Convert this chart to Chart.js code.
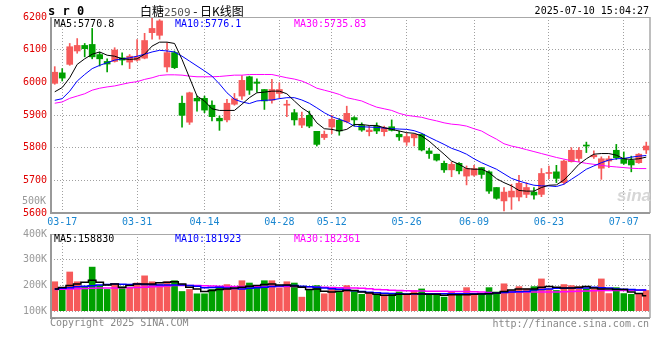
<!DOCTYPE html>
<html>
<head>
<meta charset="utf-8">
<script src="https://cdn.jsdelivr.net/npm/chart.js@4.4.1/dist/chart.umd.min.js"></script>
<style>
body { margin: 0; background: #fff; }
#wrap { position: relative; width: 660px; height: 360px; overflow: hidden; font-family: 'DejaVu Sans Mono', monospace; font-size: 10px; }
canvas { position: absolute; left: 0; }
.t { position: absolute; white-space: pre; line-height: 12px; }
</style>
</head>
<body>
<div id="wrap">
  <canvas id="priceChart" width="660" height="232" style="top:0"></canvas>
  <canvas id="volChart" width="660" height="110" style="top:222px"></canvas>

  <div class="t" style="left:617px;top:187px;color:#d6d6d6;font:italic bold 17px 'Liberation Sans',sans-serif;line-height:18px">sina</div>

  <div class="t" style="left:48px;top:5px;font-weight:bold;font-size:12px">s r 0</div>
  <div class="t" style="left:140px;top:4px;font-family:'Noto Sans CJK SC',sans-serif;font-size:12px;line-height:14px">白糖<span style="font-family:'DejaVu Sans Mono',monospace;font-size:11px;color:#555">2509</span> - 日K线图</div>
  <div class="t" style="right:11px;top:5px">2025-07-10 15:04:27</div>

  <div class="t" style="left:54px;top:18px">MA5:5770.8</div>
  <div class="t" style="left:175px;top:18px;color:#0000ff">MA10:5776.1</div>
  <div class="t" style="left:294px;top:18px;color:#ff00ff">MA30:5735.83</div>

  <div class="t" style="left:22px;top:195px;color:#999">500K</div>

  <div class="t" style="left:54px;top:233px">MA5:158830</div>
  <div class="t" style="left:175px;top:233px;color:#0000ff">MA10:181923</div>
  <div class="t" style="left:294px;top:233px;color:#ff00ff">MA30:182361</div>

  <div class="t" style="left:50px;top:317px;color:#888">Copyright 2025 SINA.COM</div>
  <div class="t" style="right:11px;top:318px;color:#888">http://finance.sina.com.cn</div>
</div>

<script>
// Trading days shown (80 sessions)
const dates = [
  '03-14','03-17','03-18','03-19','03-20','03-21','03-24','03-25','03-26','03-27','03-28','03-31',
  '04-01','04-02','04-03','04-07','04-08','04-09','04-10','04-11','04-14','04-15','04-16','04-17','04-18',
  '04-21','04-22','04-23','04-24','04-25','04-28','04-29','04-30',
  '05-06','05-07','05-08','05-09','05-12','05-13','05-14','05-15','05-16','05-19','05-20','05-21','05-22','05-23',
  '05-26','05-27','05-28','05-29','05-30',
  '06-03','06-04','06-05','06-06','06-09','06-10','06-11','06-12','06-13','06-16','06-17','06-18','06-19','06-20',
  '06-23','06-24','06-25','06-26','06-27','06-30',
  '07-01','07-02','07-03','07-04','07-07','07-08','07-09','07-10'
];
const dateTicks = ['03-17','03-31','04-14','04-28','05-12','05-26','06-09','06-23','07-07'];

const opens = [5997,6029,6055,6096,6113,6116,6085,6064,6064,6075,6062,6068,6074,6152,6144,6047,6091,5936,5878,5951,
  5951,5930,5890,5885,5933,5958,6017,6001,5978,5945,5966,5930,5907,5869,5899,5850,5831,5863,5884,5879,
  5892,5868,5849,5866,5849,5864,5841,5817,5830,5841,5790,5780,5752,5732,5752,5713,5716,5739,5726,5678,
  5637,5649,5649,5657,5664,5657,5721,5726,5693,5757,5767,5807,5772,5737,5759,5792,5766,5761,5754,5793];
const highs = [6048,6042,6119,6134,6119,6165,6092,6072,6106,6090,6085,6131,6150,6200,6192,6121,6096,5958,5970,5958,
  5958,5943,5897,5948,5966,6021,6019,6011,5978,6009,5999,5945,5917,5909,5912,5850,5851,5899,5889,5927,
  5895,5876,5866,5876,5866,5885,5851,5844,5841,5843,5798,5780,5759,5756,5754,5744,5746,5739,5729,5678,
  5678,5688,5715,5693,5678,5736,5744,5746,5762,5800,5800,5817,5790,5772,5774,5810,5787,5774,5782,5817];
const lows = [5994,6004,6052,6089,6078,6072,6050,6032,6062,6053,6042,6065,6072,6132,6132,6032,6042,5863,5871,5912,
  5907,5882,5853,5879,5930,5948,5963,5970,5917,5936,5953,5895,5869,5861,5861,5805,5825,5843,5838,5876,
  5866,5850,5836,5843,5836,5851,5822,5807,5805,5790,5767,5759,5724,5711,5720,5686,5713,5706,5660,5642,
  5606,5611,5637,5647,5642,5650,5705,5693,5688,5756,5757,5785,5767,5703,5739,5764,5749,5726,5752,5782];
const closes = [6031,6013,6109,6113,6103,6078,6072,6056,6099,6068,6080,6078,6128,6165,6188,6091,6045,5899,5968,5943,
  5915,5895,5882,5936,5950,6006,5976,5997,5943,5978,5978,5933,5885,5890,5866,5810,5841,5887,5851,5905,
  5885,5854,5854,5851,5861,5853,5833,5834,5841,5793,5782,5762,5732,5749,5729,5736,5736,5718,5667,5645,
  5664,5667,5691,5678,5655,5721,5723,5706,5759,5792,5792,5805,5777,5766,5766,5769,5752,5747,5780,5805];

const ma5 = [5971,5984,6014,6055,6072,6086,6093,6083,6080,6072,6070,6072,6086,6111,6123,6123,6119,6070,6014,5958,
  5943,5919,5914,5914,5914,5933,5953,5968,5970,5973,5973,5965,5943,5922,5907,5876,5858,5856,5851,5856,
  5871,5871,5868,5868,5861,5856,5851,5846,5844,5836,5820,5800,5780,5759,5749,5736,5734,5734,5724,5705,
  5693,5683,5669,5667,5667,5678,5685,5686,5701,5724,5749,5766,5780,5782,5782,5777,5766,5764,5766,5771];
const ma10 = [5945,5950,5973,6004,6024,6042,6052,6060,6068,6072,6075,6080,6086,6093,6098,6096,6093,6080,6065,6050,
  6035,6019,5995,5968,5948,5940,5935,5943,5945,5946,5950,5953,5953,5946,5936,5922,5907,5895,5887,5879,
  5866,5864,5863,5862,5860,5858,5857,5856,5852,5844,5832,5821,5810,5798,5790,5780,5766,5754,5744,5734,
  5720,5706,5698,5691,5685,5683,5683,5681,5688,5703,5718,5734,5744,5754,5762,5766,5767,5771,5774,5776];
const ma30 = [5936,5940,5951,5958,5965,5976,5982,5986,5989,5994,5999,6002,6009,6014,6021,6023,6023,6022,6019,6017,
  6017,6017,6018,6020,6022,6022,6024,6024,6024,6024,6019,6014,6010,6004,5994,5982,5976,5970,5963,5953,
  5948,5943,5933,5924,5919,5914,5905,5899,5896,5893,5887,5882,5876,5872,5870,5866,5858,5851,5838,5826,
  5812,5805,5800,5794,5788,5782,5776,5770,5765,5760,5756,5752,5749,5746,5743,5741,5739,5737,5736,5736];

// Volume in thousands of lots
const volumeK = [214,182,252,214,193,271,199,184,205,193,189,209,237,214,205,214,218,176,184,167,
  167,184,193,203,186,218,209,195,218,218,190,214,209,154,184,199,167,186,176,199,
  176,165,171,161,163,167,174,163,180,186,167,165,154,174,163,191,165,167,191,174,
  206,180,195,186,195,225,186,180,203,199,195,186,186,225,168,191,168,165,165,180];
const vma5 = [186,192,199,205,212,220,212,201,205,193,199,205,205,205,210,212,214,205,193,186,
  176,180,184,186,190,193,196,199,203,205,201,201,197,193,184,186,177,174,177,180,
  180,174,170,165,161,161,165,165,167,166,165,165,161,163,163,163,165,166,167,170,
  176,182,186,186,186,193,195,193,190,190,193,195,190,186,186,184,184,174,168,159];
const vma10 = [186,189,191,194,196,198,201,203,205,204,203,205,203,202,201,201,201,201,199,196,
  191,192,193,190,188,186,189,191,193,195,197,199,199,196,194,193,190,187,185,182,
  179,176,173,171,169,168,167,166,166,167,167,167,167,167,167,167,167,167,168,170,
  172,174,175,176,182,184,186,189,189,190,190,190,193,191,190,186,185,184,182,182];
const vma30 = [184,185,186,187,188,189,190,190,190,191,191,192,193,194,195,197,199,199,199,199,
  198,197,196,195,195,195,195,195,195,195,195,195,195,194,194,193,193,192,191,190,
  190,189,187,184,183,181,180,179,178,178,177,177,177,176,176,176,175,174,172,171,
  172,174,174,174,174,174,174,174,175,176,177,178,179,180,180,180,180,181,181,182];

const RED = '#f65a5a';
const GREEN = '#00a000';
const isUp = i => closes[i] >= opens[i];
const candleColor = ctx => isUp(ctx.dataIndex) ? RED : GREEN;

Chart.defaults.font.family = "'DejaVu Sans Mono', monospace";
Chart.defaults.font.size = 10;
Chart.defaults.animation = false;

// Gray frame around each panel
const framePlugin = {
  id: 'frame',
  afterDatasetsDraw(chart, args, opts) {
    const { ctx, chartArea: a } = chart;
    const bottom = a.bottom + (opts.extraBottom || 0);
    ctx.save();
    ctx.strokeStyle = '#a8a8a8';
    ctx.lineWidth = 1;
    ctx.beginPath();
    ctx.moveTo(a.left, a.top + 0.5);
    ctx.lineTo(a.right, a.top + 0.5);
    ctx.stroke();
    ctx.lineWidth = 1.5;
    ctx.beginPath();
    ctx.moveTo(a.right, a.top);
    ctx.lineTo(a.right, bottom);
    ctx.stroke();
    ctx.strokeStyle = '#999';
    ctx.lineWidth = 2;
    ctx.beginPath();
    ctx.moveTo(a.left, a.top);
    ctx.lineTo(a.left, bottom);
    ctx.lineTo(a.right, bottom);
    ctx.stroke();
    ctx.restore();
  }
};

function xScale(showLabels) {
  return {
    type: 'category',
    offset: true,
    grid: { offset: false, color: '#a0a0a0', drawTicks: false },
    border: { display: false, dash: [1, 2] },
    ticks: { display: showLabels, color: '#1a86d0', padding: 3, autoSkip: false, maxRotation: 0 },
    afterBuildTicks: axis => {
      axis.ticks = axis.ticks.filter(t => dateTicks.includes(dates[t.value]));
    },
    afterFit: axis => { axis.height = showLabels ? 19 : 0; }
  };
}

function maLine(data, color, width, stepped) {
  return {
    type: 'line', data: data, borderColor: color, borderWidth: width,
    pointRadius: 0, tension: 0, stepped: stepped, order: 0
  };
}

new Chart(document.getElementById('priceChart'), {
  type: 'bar',
  data: {
    labels: dates,
    datasets: [
      maLine(ma5, '#000000', 1, false),
      maLine(ma10, '#0000ff', 1, false),
      maLine(ma30, '#ff00ff', 1, false),
      {
        data: dates.map((d, i) => [opens[i], closes[i]]),
        backgroundColor: candleColor,
        barThickness: 6,
        minBarLength: 1,
        grouped: false,
        order: 1
      },
      {
        data: dates.map((d, i) => [lows[i], highs[i]]),
        backgroundColor: candleColor,
        barThickness: 1,
        grouped: false,
        order: 2
      }
    ]
  },
  options: {
    responsive: false,
    devicePixelRatio: 1,
    layout: { padding: { top: 17, right: 10, left: 0, bottom: 0 } },
    plugins: { legend: { display: false }, tooltip: { enabled: false }, frame: {} },
    scales: {
      x: xScale(true),
      y: {
        min: 5600, max: 6200,
        ticks: { stepSize: 100, color: '#e00000', padding: 4, callback: v => String(v) },
        grid: { color: '#a0a0a0', drawTicks: false },
        border: { display: false, dash: [1, 2] },
        afterFit: axis => { axis.width = 51; }
      }
    }
  },
  plugins: [framePlugin]
});

new Chart(document.getElementById('volChart'), {
  type: 'bar',
  data: {
    labels: dates,
    datasets: [
      maLine(vma5, '#000000', 1.5, 'middle'),
      maLine(vma10, '#0000ff', 1.5, 'middle'),
      maLine(vma30, '#ff00ff', 1.5, 'middle'),
      {
        data: volumeK,
        backgroundColor: candleColor,
        barThickness: 6,
        grouped: false,
        order: 1
      }
    ]
  },
  options: {
    responsive: false,
    devicePixelRatio: 1,
    layout: { padding: { top: 12, right: 10, left: 0, bottom: 21 } },
    plugins: { legend: { display: false }, tooltip: { enabled: false }, frame: { extraBottom: 7 } },
    scales: {
      x: xScale(false),
      y: {
        min: 100, max: 400,
        ticks: { stepSize: 100, color: '#999', padding: 4, callback: v => v + 'K' },
        grid: { color: '#a0a0a0', drawTicks: false },
        border: { display: false, dash: [1, 2] },
        afterFit: axis => { axis.width = 51; }
      }
    }
  },
  plugins: [framePlugin]
});
</script>
</body>
</html>
